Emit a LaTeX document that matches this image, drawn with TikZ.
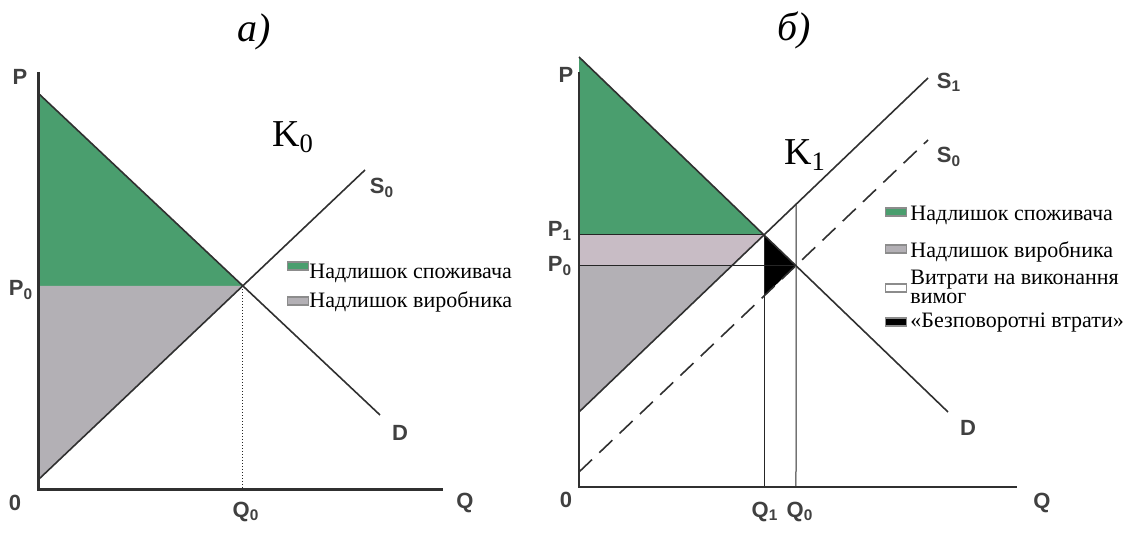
\documentclass[tikz,border=0pt]{standalone}
\usepackage{fontspec}
\setmainfont{Liberation Serif}
\setsansfont{Liberation Sans}
\usetikzlibrary{positioning, calc}
\definecolor{CSgreen}{HTML}{4A9E6E}
\definecolor{PSgrey}{HTML}{B3B0B5}
\definecolor{PSpink}{HTML}{C8BCC5}
\definecolor{LineGrey}{HTML}{303030}

\begin{document}
\begin{tikzpicture}[x=0.5pt, y=-0.5pt,
    curve/.style={draw=LineGrey, line width=0.8pt},
    axisa/.style={draw=LineGrey, line width=1.5pt},
    axisb/.style={draw=LineGrey, line width=0.9pt},
    guide/.style={draw=black!85, line width=0.5pt},
    lbl/.style={font=\sffamily\bfseries\fontsize{11}{12}\selectfont, text=black!75, inner sep=1pt},
    legtxt/.style={font=\fontsize{11}{9.5}\selectfont, anchor=west, inner sep=0pt, align=left},
    lbox/.style={draw=black!45, line width=0.6pt, minimum width=10.5pt, minimum height=4pt, inner sep=0pt},
    ktxt/.style={font=\fontsize{19}{20}\selectfont, inner sep=0pt},
    ttl/.style={font=\itshape\fontsize{20}{22}\selectfont, inner sep=0pt}]
  \useasboundingbox (0,0) rectangle (1136,533);

  % ---- panel a
  \coordinate (Oa) at (38,490);
  \coordinate (Pa) at (38,72);
  \coordinate (Qa) at (443,490);
  \coordinate (Da1) at (38,93);
  \coordinate (Da2) at (380,415);
  \coordinate (Sa1) at (38,480);
  \coordinate (Sa2) at (365,170);
  \coordinate (Ea) at (intersection of Da1--Da2 and Sa1--Sa2);

  \fill[CSgreen] (Da1) -- (Ea) -- (Oa |- Ea) -- cycle;
  \fill[PSgrey] (Oa |- Ea) -- (Ea) -- (Sa1) -- cycle;
  \draw[guide, densely dotted] (Ea) -- (Ea |- Oa);
  \draw[curve] (Da1) -- (Da2);
  \draw[curve] (Sa1) -- (Sa2);
  \draw[axisa] (Pa) -- (Oa) -- (Qa);

  \node[ttl] (ta) at (254,32) {а)};
  \node[ktxt] (k0) at (293,137) {K\textsubscript{0}};
  \node[lbl] (pa) at (20,77) {P};
  \node[lbl] (p0a) at (21,290) {P\textsubscript{0}};
  \node[lbl] (oa) at (15,503) {0};
  \node[lbl] (qa) at (465,503) {Q};
  \node[lbl] (q0a) at (246,512) {Q\textsubscript{0}};
  \node[lbl] (s0a) at (382,188) {S\textsubscript{0}};
  \node[lbl] (da) at (400,433) {D};

  \node[lbox, fill=CSgreen] (ka1) at (298,266) {};
  \node[legtxt] (la1) at (309,273) {Надлишок споживача};
  \node[lbox, fill=PSgrey] (ka2) at (298,301) {};
  \node[legtxt] (la2) at (309,302) {Надлишок виробника};

  % ---- panel b
  \coordinate (Ob) at (579,487);
  \coordinate (Pb) at (579,72);
  \coordinate (Qb) at (1017,487);
  \coordinate (Db1) at (579,57);
  \coordinate (Db2) at (948,412);
  \coordinate (S1a) at (579,412);
  \coordinate (S1b) at (928,78);
  \coordinate (S0a) at (579,472);
  \coordinate (S0b) at (928,140);
  \coordinate (E1) at (intersection of Db1--Db2 and S1a--S1b);
  \coordinate (E0) at (intersection of Db1--Db2 and S0a--S0b);
  \coordinate (F1) at (intersection of S0a--S0b and E1--{E1 |- Ob});
  \coordinate (G0) at (intersection of S1a--S1b and E0--{E0 |- Ob});
  \coordinate (H0) at (intersection of S1a--S1b and E0--{Ob |- E0});

  \fill[CSgreen] (Db1) -- (E1) -- (Ob |- E1) -- cycle;
  \fill[PSgrey] (Ob |- E1) -- (E1) -- (S1a) -- cycle;
  \fill[PSpink] (Ob |- E1) -- (E1) -- (H0) -- (Ob |- E0) -- cycle;
  \fill[black] (E1) -- (E0) -- (F1) -- cycle;
  \draw[guide] (Ob |- E1) -- (E1);
  \draw[guide] (Ob |- E0) -- (E0);
  \draw[guide] (E1) -- (E1 |- Ob);
  \draw[guide] (G0) -- (E0 |- Ob);
  \draw[curve] (Db1) -- (Db2);
  \draw[curve] (S1a) -- (S1b);
  \draw[curve, dash pattern=on 9pt off 5pt] (S0a) -- (S0b);
  \draw[axisb] (Pb) -- (Ob) -- (Qb);

  \node[ttl] (tb) at (794,30) {б)};
  \node[ktxt] (k1) at (805,155) {K\textsubscript{1}};
  \node[lbl] (pb) at (566,75) {P};
  \node[lbl] (p1b) at (560,231) {P\textsubscript{1}};
  \node[lbl] (p0b) at (560,266) {P\textsubscript{0}};
  \node[lbl] (ob) at (566,500) {0};
  \node[lbl] (qb) at (1042,503) {Q};
  \node[lbl] (q1b) at (765,512) {Q\textsubscript{1}};
  \node[lbl] (q0b) at (800,512) {Q\textsubscript{0}};
  \node[lbl] (s1b) at (949,82) {S\textsubscript{1}};
  \node[lbl] (s0b) at (949,157) {S\textsubscript{0}};
  \node[lbl] (db) at (968,428) {D};

  \node[lbox, fill=CSgreen] (kb1) at (896,212) {};
  \node[legtxt] (lb1) at (910,215) {Надлишок споживача};
  \node[lbox, fill=PSgrey] (kb2) at (896,249) {};
  \node[legtxt] (lb2) at (910,252) {Надлишок виробника};
  \node[lbox, fill=white] (kb3) at (896,288) {};
  \node[legtxt] (lb3) at (910,287) {Витрати на виконання\\вимог};
  \node[lbox, fill=black] (kb4) at (896,322) {};
  \node[legtxt] (lb4) at (910,323) {«Безповоротні втрати»};
\end{tikzpicture}
\end{document}
